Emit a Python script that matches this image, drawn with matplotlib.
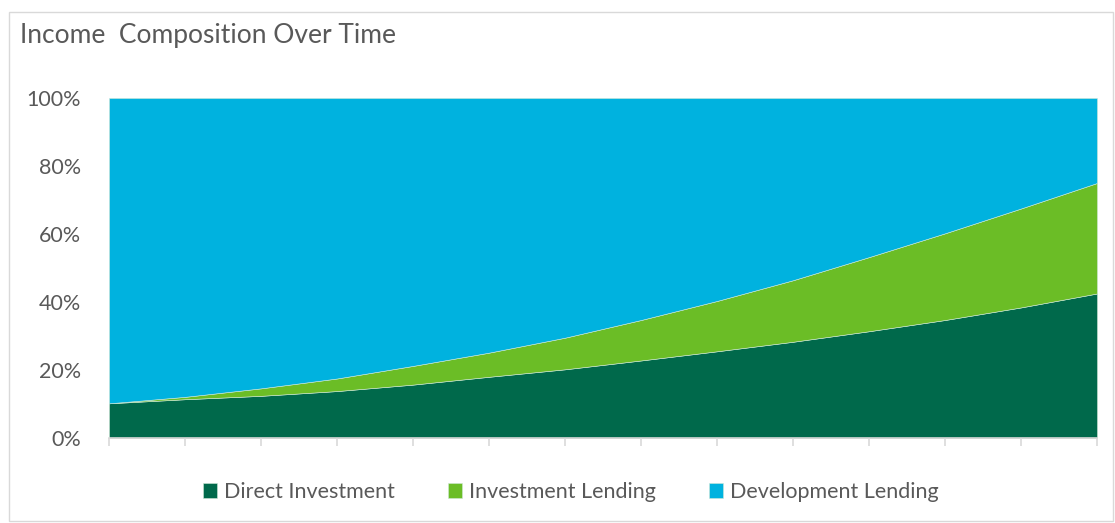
import numpy as np
import matplotlib
matplotlib.use("Agg")
import matplotlib.pyplot as plt
from matplotlib.patches import Rectangle
from matplotlib.ticker import PercentFormatter

# ---- data: share of income (%) at each period ----
periods = list(range(14))
direct_investment = [10.2, 11.4, 12.4, 13.8, 15.7, 18.0, 20.2, 22.8, 25.5, 28.3, 31.4, 34.7, 38.4, 42.5]
investment_lending = [0.0, 0.7, 2.2, 3.7, 5.5, 7.1, 9.3, 11.9, 14.8, 18.1, 21.8, 25.5, 29.1, 32.5]
development_lending = [100 - a - b for a, b in zip(direct_investment, investment_lending)]
labels = ["Direct Investment", "Investment Lending", "Development Lending"]
colors = ["#00694B", "#6BBD26", "#00B2DF"]

txt = "#595959"
plt.rcParams["font.family"] = ["Lato", "DejaVu Sans"]

fig = plt.figure(figsize=(11.15, 5.23), dpi=100)
fig.patches.append(Rectangle((9 / 1115, 2 / 523), 1104 / 1115, 509 / 523,
                             transform=fig.transFigure, fill=False,
                             edgecolor="#d9d9d9", linewidth=1))
ax = fig.add_axes([109 / 1115, 1 - 438 / 523, 988 / 1115, 340 / 523])

ax.stackplot(periods, direct_investment, investment_lending, development_lending,
             colors=colors, labels=labels, edgecolor="#cfe8d8", linewidth=0.4)

ax.set_xlim(periods[0], periods[-1])
ax.set_ylim(0, 100)
ax.set_yticks(range(0, 101, 20))
ax.yaxis.set_major_formatter(PercentFormatter(decimals=0))
ax.set_xticks(periods)
ax.set_xticklabels([])
ax.tick_params(axis="y", length=0, labelsize=15.5, labelcolor=txt, pad=20)
ax.tick_params(axis="x", length=6, color="#d9d9d9", width=1.2)
for s in ["top", "right", "left"]:
    ax.spines[s].set_visible(False)
ax.spines["bottom"].set_color("#d9d9d9")
ax.spines["bottom"].set_linewidth(1.2)

fig.text(20 / 1115, 1 - 35 / 523, "Income  Composition Over Time", fontsize=19,
         color=txt, va="center", ha="left")

leg = fig.legend(loc="center", bbox_to_anchor=(0.512, 1 - 492 / 523), ncol=3,
                 frameon=False, fontsize=15.5, handlelength=0.65, handleheight=0.65,
                 handletextpad=0.3, columnspacing=2.5)
for t in leg.get_texts():
    t.set_color(txt)

fig.savefig("out.png", dpi=100)
